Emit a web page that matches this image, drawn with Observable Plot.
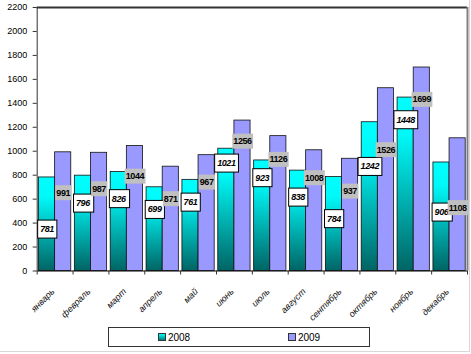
<!DOCTYPE html>
<html>
<head>
<meta charset="utf-8">
<script src="https://cdn.jsdelivr.net/npm/d3@7"></script>
<script src="https://cdn.jsdelivr.net/npm/@observablehq/plot@0.6"></script>
<style>
  html, body { margin: 0; padding: 0; background: #fff; }
  #wrap { position: relative; width: 471px; height: 354px; font-family: "Liberation Sans", Arial, sans-serif; }
  #wrap::after { content: ""; position: absolute; left: 0; top: 0; width: 469px; height: 351px;
    border-right: 1px solid #d8d8d8; border-bottom: 1px solid #d8d8d8; pointer-events: none; }
  #legend { position: absolute; left: 108px; top: 327px; width: 260px; height: 18px;
    border: 1px solid #333; display: flex; background: #fff; }
  #legend .item { flex: 1; display: flex; align-items: center; justify-content: center;
    font-size: 10px; color: #000; }
  #legend .sw { width: 6px; height: 6px; border: 1px solid #333; margin-right: 2px; }
</style>
</head>
<body>
<div id="wrap">
  <div id="chart"></div>
  <div id="legend"></div>
</div>
<script>
const months = ["январь","февраль","март","апрель","май","июнь","июль","август","сентябрь","октябрь","ноябрь","декабрь"];
const years = ["2008", "2009"];
const values2008 = [781, 796, 826, 699, 761, 1021, 923, 838, 784, 1242, 1448, 906];
const values2009 = [991, 987, 1044, 871, 967, 1256, 1126, 1008, 937, 1526, 1699, 1108];
// where each value label sits on the y scale
const labelAt2008 = [349, 566, 603, 513, 574, 900, 778, 616, 436, 872, 1262, 491];
const labelAt2009 = [653, 686, 791, 603, 741, 1083, 931, 778, 666, 1012, 1432, 528];
const yTicks = [0, 200, 400, 600, 800, 1000, 1200, 1400, 1600, 1800, 2000, 2200];

const rows2008 = months.map((m, i) => ({i, month: m, v: values2008[i], at: labelAt2008[i]}));
const rows2009 = months.map((m, i) => ({i, month: m, v: values2009[i], at: labelAt2009[i]}));

const font = '"Liberation Sans", Arial, sans-serif';

const svg = Plot.plot({
  width: 471,
  height: 354,
  marginLeft: 36.7,
  marginRight: 4,
  marginTop: 7,
  marginBottom: 83.5,
  style: {fontFamily: font, fontSize: "9px", background: "transparent", color: "#000"},
  x: {type: "linear", domain: [0, 12]},
  y: {domain: [0, 2200]},
  marks: [
    Plot.rect(rows2008, {x1: d => d.i + 0.05, x2: d => d.i + 0.5, y1: d => 0, y2: d => d.v,
      fill: "url(#tealGrad)", stroke: "#111", strokeWidth: 0.8}),
    Plot.rect(rows2009, {x1: d => d.i + 0.5, x2: d => d.i + 0.95, y1: d => 0, y2: d => d.v,
      fill: "#9999FF", stroke: "#111", strokeWidth: 0.8}),
    Plot.ruleY([2200], {stroke: "#333", strokeWidth: 2}),
    Plot.ruleX([12], {stroke: "#808080", strokeWidth: 2}),
    Plot.ruleX([0], {stroke: "#333", strokeWidth: 1}),
    Plot.ruleY([0], {stroke: "#000", strokeWidth: 1}),
    Plot.axisY({ticks: yTicks, tickSize: 4, tickPadding: 6, tickFormat: d => String(d),
      label: null, fontSize: 9, stroke: "#333"}),
    Plot.axisX({ticks: d3.range(0, 13), tickSize: 4, tickFormat: () => "", label: null, stroke: "#333"}),
    Plot.text(months, {x: (d, i) => i + 0.5, y: d => 0, text: d => d, rotate: -45,
      textAnchor: "end", dx: -2, dy: 19, fontSize: 9, fontStyle: "italic", fill: "#111"}),
    Plot.text(rows2008, {x: d => d.i + 0.275, y: d => d.at, text: d => String(d.v),
      fontSize: 9, fontWeight: "bold", fontStyle: "italic", fill: "#000"}),
    Plot.text(rows2009, {x: d => d.i + 0.725, y: d => d.at, text: d => String(d.v),
      fontSize: 9, fontWeight: "bold", fill: "#000"})
  ]
});

document.getElementById("chart").appendChild(svg);

// gradient for the 2008 bars
const ns = "http://www.w3.org/2000/svg";
const defs = document.createElementNS(ns, "defs");
defs.innerHTML = '<linearGradient id="tealGrad" x1="0" y1="0" x2="0" y2="1">' +
  '<stop offset="0" stop-color="#00FFFF"/><stop offset="0.22" stop-color="#00F8F8"/>' +
  '<stop offset="1" stop-color="#006464"/></linearGradient>';
svg.insertBefore(defs, svg.firstChild);

// label boxes behind the value labels (the 2nd and 3rd text marks)
const textGroups = svg.querySelectorAll('g[aria-label="text"]');
function boxes(group, opts) {
  if (!group) return;
  group.querySelectorAll("text").forEach(t => {
    t.setAttribute("letter-spacing", "-0.4");
    const b = t.getBBox();
    const r = document.createElementNS(ns, "rect");
    const w = b.width + 2 * opts.px;
    const cx = b.x + b.width / 2, cy = b.y + b.height / 2;
    r.setAttribute("x", cx - w / 2);
    r.setAttribute("y", cy - opts.h / 2);
    r.setAttribute("width", w);
    r.setAttribute("height", opts.h);
    r.setAttribute("fill", opts.fill);
    if (opts.stroke) { r.setAttribute("stroke", opts.stroke); r.setAttribute("stroke-width", 1); }
    const tr = t.getAttribute("transform");
    if (tr) r.setAttribute("transform", tr);
    t.parentNode.insertBefore(r, t);
  });
}
boxes(textGroups[1], {px: 2.5, h: 18, fill: "#fff", stroke: "#000"});
boxes(textGroups[2], {px: 1, h: 15, fill: "#C0C0C0"});

// legend
const legend = document.getElementById("legend");
const swatches = ["linear-gradient(#00FFFF, #008080)", "#9999FF"];
years.forEach((y, k) => {
  const it = document.createElement("div");
  it.className = "item";
  const sw = document.createElement("span");
  sw.className = "sw";
  sw.style.background = swatches[k];
  it.appendChild(sw);
  it.appendChild(document.createTextNode(y));
  legend.appendChild(it);
});
</script>
</body>
</html>
